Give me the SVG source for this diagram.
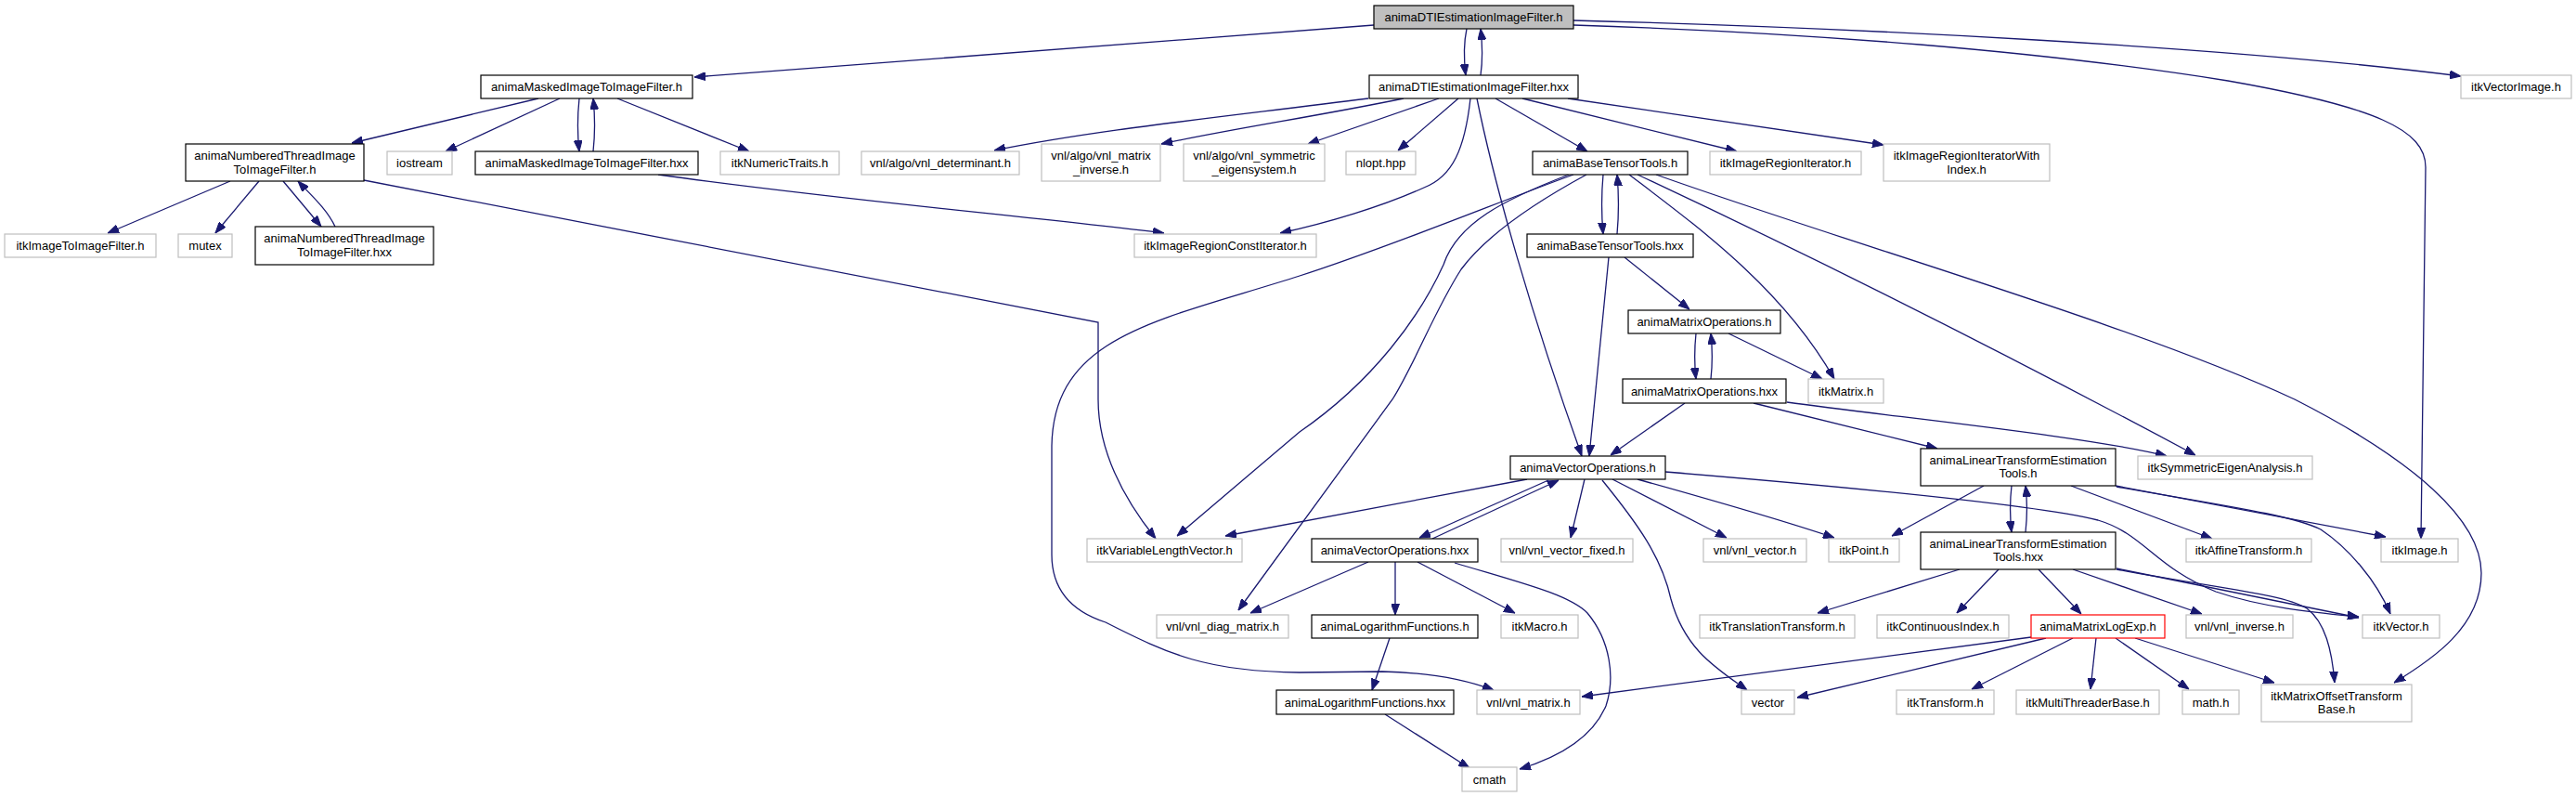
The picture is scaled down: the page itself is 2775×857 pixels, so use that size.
<svg xmlns="http://www.w3.org/2000/svg" width="2775" height="857" viewBox="0 0 2775 857">
<style>
rect{fill:#fff;stroke-width:1.2}
.d{stroke:#000}
.e{stroke:#bfbfbf}
.r{fill:#bfbfbf;stroke:#000}
.t{stroke:#ff0000}
text{font-family:"Liberation Sans",Arial,Helvetica,sans-serif;font-size:13px;fill:#000;text-anchor:middle}
#edges path{fill:none;stroke:#191970;stroke-width:1.3;marker-end:url(#ah)}
</style>
<defs>
<marker id="ah" markerUnits="userSpaceOnUse" markerWidth="12" markerHeight="9" refX="12" refY="4.5" orient="auto" viewBox="0 0 12 9"><path d="M0,0L12,4.5L0,9z" fill="#191970" stroke="#191970" stroke-width="1"/></marker>
</defs>
<rect x="0" y="0" width="2775" height="857" style="fill:#fff;stroke:none"/>
<g id="edges">
<path d="M1480,27 L748,83"/>
<path d="M1580,31 C1577,45 1577,65 1579,81"/>
<path d="M1595,81 C1597,67 1597,48 1595,31"/>
<path d="M1695,22 C2000,30 2400,50 2651,82"/>
<path d="M1695,27 C1950,35 2200,55 2400,87 C2560,115 2613,140 2613,180 L2608,580"/>
<path d="M580,106 L379,154"/>
<path d="M603,106 L480,163"/>
<path d="M624,106 C622,125 622,145 624,163"/>
<path d="M639,163 C641,145 641,125 639,106"/>
<path d="M665,106 L807,163"/>
<path d="M248,195 L116,251"/>
<path d="M279,195 L232,251"/>
<path d="M305,195 L346,244"/>
<path d="M361,244 C352,225 335,210 321,195"/>
<path d="M392,194 L1183,347 L1183,430 C1183,480 1205,530 1245,580"/>
<path d="M709,188 C900,215 1100,232 1254,251"/>
<path d="M1474,106 C1300,128 1180,140 1071,162"/>
<path d="M1512,106 C1420,125 1330,138 1251,155"/>
<path d="M1550,106 L1409,155"/>
<path d="M1571,106 L1506,162"/>
<path d="M1584,106 C1578,160 1565,190 1534,202 C1490,222 1430,240 1379,251"/>
<path d="M1611,106 L1710,163"/>
<path d="M1640,106 L1871,163"/>
<path d="M1689,106 L2029,156"/>
<path d="M1591,106 C1610,200 1650,340 1704,491"/>
<path d="M1727,188 C1725,210 1725,230 1727,252"/>
<path d="M1742,252 C1744,230 1744,210 1742,188"/>
<path d="M1690,188 C1620,215 1570,240 1555,285 C1530,340 1480,410 1400,465 L1268,577"/>
<path d="M1709,188 C1650,220 1600,255 1574,290 C1545,335 1525,390 1500,430 L1334,657"/>
<path d="M1695,188 C1620,215 1500,265 1400,297 C1250,345 1135,360 1133,480 L1133,597 C1133,640 1160,660 1191,670 C1260,705 1300,723 1400,724 L1489,723 C1540,724 1580,732 1609,743"/>
<path d="M1755,188 C1830,245 1920,310 1976,408"/>
<path d="M1764,188 C1950,275 2150,375 2365,490"/>
<path d="M1784,188 C2000,265 2300,350 2472,430 C2600,495 2673,560 2673,617 C2673,675 2620,710 2579,735"/>
<path d="M1750,277 L1820,333"/>
<path d="M1733,277 L1712,491"/>
<path d="M1827,359 C1825,378 1825,390 1827,408"/>
<path d="M1843,408 C1845,390 1845,378 1843,359"/>
<path d="M1862,359 L1963,408"/>
<path d="M1815,434 L1735,490"/>
<path d="M1889,434 L2087,483"/>
<path d="M1925,433 C2050,450 2250,470 2334,491"/>
<path d="M1645,516 L1320,577"/>
<path d="M1668,517 L1529,579"/>
<path d="M1543,580 L1679,517"/>
<path d="M1707,516 L1692,579"/>
<path d="M1737,516 L1860,579"/>
<path d="M1764,516 C1850,540 1920,560 1976,579"/>
<path d="M1726,517 C1765,565 1790,600 1800,645 C1815,700 1850,720 1882,743"/>
<path d="M1794,508 C2000,525 2200,545 2260,560 C2310,575 2320,610 2387,637 C2440,655 2500,660 2541,664"/>
<path d="M2167,523 C2165,540 2165,555 2167,573"/>
<path d="M2182,573 C2184,555 2184,540 2182,523"/>
<path d="M2137,523 L2038,577"/>
<path d="M2231,523 L2383,580"/>
<path d="M2279,523 L2570,578"/>
<path d="M2280,524 C2400,545 2470,555 2500,570 C2530,590 2560,625 2575,661"/>
<path d="M2111,613 L1958,660"/>
<path d="M2153,613 L2108,660"/>
<path d="M2196,613 L2242,661"/>
<path d="M2233,613 L2372,661"/>
<path d="M2280,612 L2541,665"/>
<path d="M2280,613 C2400,635 2460,640 2485,655 C2505,670 2512,700 2515,735"/>
<path d="M2188,686 L1704,750"/>
<path d="M2204,687 L1936,751"/>
<path d="M2233,687 L2124,742"/>
<path d="M2258,687 L2252,742"/>
<path d="M2279,687 L2358,742"/>
<path d="M2300,687 L2450,735"/>
<path d="M1474,605 L1347,660"/>
<path d="M1503,605 L1503,662"/>
<path d="M1527,605 L1632,660"/>
<path d="M1567,606 C1640,628 1690,640 1710,660 C1735,690 1740,730 1730,760 C1715,795 1680,815 1637,828"/>
<path d="M1497,687 L1478,743"/>
<path d="M1492,769 L1583,827"/>
</g>
<g id="n_root"><rect class="r" x="1480" y="6" width="215" height="25"/><text x="1587.5" y="23">animaDTIEstimationImageFilter.h</text></g>
<g id="n_masked"><rect class="d" x="518" y="81" width="228" height="25"/><text x="632" y="98">animaMaskedImageToImageFilter.h</text></g>
<g id="n_dtihxx"><rect class="d" x="1475" y="81" width="225" height="25"/><text x="1587.5" y="98">animaDTIEstimationImageFilter.hxx</text></g>
<g id="n_vecimg"><rect class="e" x="2651" y="81" width="119" height="25"/><text x="2710.5" y="98">itkVectorImage.h</text></g>
<g id="n_numth"><rect class="d" x="200" y="155" width="192" height="40"/><text x="296" y="172">animaNumberedThreadImage</text><text x="296" y="187">ToImageFilter.h</text></g>
<g id="n_iostream"><rect class="e" x="417" y="163" width="70" height="25"/><text x="452" y="180">iostream</text></g>
<g id="n_maskedhxx"><rect class="d" x="512" y="163" width="240" height="25"/><text x="632" y="180">animaMaskedImageToImageFilter.hxx</text></g>
<g id="n_numtraits"><rect class="e" x="776" y="163" width="128" height="25"/><text x="840" y="180">itkNumericTraits.h</text></g>
<g id="n_det"><rect class="e" x="928" y="163" width="170" height="25"/><text x="1013" y="180">vnl/algo/vnl_determinant.h</text></g>
<g id="n_matinv"><rect class="e" x="1122" y="155" width="128" height="40"/><text x="1186" y="172">vnl/algo/vnl_matrix</text><text x="1186" y="187">_inverse.h</text></g>
<g id="n_symeig"><rect class="e" x="1275" y="155" width="152" height="40"/><text x="1351" y="172">vnl/algo/vnl_symmetric</text><text x="1351" y="187">_eigensystem.h</text></g>
<g id="n_nlopt"><rect class="e" x="1450" y="163" width="75" height="25"/><text x="1487.5" y="180">nlopt.hpp</text></g>
<g id="n_btt"><rect class="d" x="1651" y="163" width="167" height="25"/><text x="1734.5" y="180">animaBaseTensorTools.h</text></g>
<g id="n_iri"><rect class="e" x="1842" y="163" width="163" height="25"/><text x="1923.5" y="180">itkImageRegionIterator.h</text></g>
<g id="n_iriwi"><rect class="e" x="2029" y="155" width="179" height="40"/><text x="2118.5" y="172">itkImageRegionIteratorWith</text><text x="2118.5" y="187">Index.h</text></g>
<g id="n_itif"><rect class="e" x="5" y="252" width="163" height="25"/><text x="86.5" y="269">itkImageToImageFilter.h</text></g>
<g id="n_mutex"><rect class="e" x="192" y="252" width="58" height="25"/><text x="221" y="269">mutex</text></g>
<g id="n_numthhxx"><rect class="d" x="275" y="244" width="192" height="41"/><text x="371" y="261">animaNumberedThreadImage</text><text x="371" y="276">ToImageFilter.hxx</text></g>
<g id="n_ircit"><rect class="e" x="1222" y="252" width="196" height="25"/><text x="1320" y="269">itkImageRegionConstIterator.h</text></g>
<g id="n_btthxx"><rect class="d" x="1645" y="252" width="179" height="25"/><text x="1734.5" y="269">animaBaseTensorTools.hxx</text></g>
<g id="n_mo"><rect class="d" x="1754" y="334" width="164" height="25"/><text x="1836" y="351">animaMatrixOperations.h</text></g>
<g id="n_mohxx"><rect class="d" x="1748" y="408" width="176" height="26"/><text x="1836" y="425.5">animaMatrixOperations.hxx</text></g>
<g id="n_itkmatrix"><rect class="e" x="1948" y="408" width="81" height="26"/><text x="1988.5" y="425.5">itkMatrix.h</text></g>
<g id="n_vo"><rect class="d" x="1627" y="491" width="167" height="25"/><text x="1710.5" y="508">animaVectorOperations.h</text></g>
<g id="n_ltet"><rect class="d" x="2069" y="483" width="210" height="40"/><text x="2174" y="500">animaLinearTransformEstimation</text><text x="2174" y="514">Tools.h</text></g>
<g id="n_symeigan"><rect class="e" x="2303" y="491" width="188" height="25"/><text x="2397" y="508">itkSymmetricEigenAnalysis.h</text></g>
<g id="n_vlv"><rect class="e" x="1171" y="580" width="167" height="25"/><text x="1254.5" y="597">itkVariableLengthVector.h</text></g>
<g id="n_vohxx"><rect class="d" x="1413" y="580" width="179" height="25"/><text x="1502.5" y="597">animaVectorOperations.hxx</text></g>
<g id="n_vvf"><rect class="e" x="1617" y="580" width="142" height="25"/><text x="1688" y="597">vnl/vnl_vector_fixed.h</text></g>
<g id="n_vv"><rect class="e" x="1835" y="580" width="111" height="25"/><text x="1890.5" y="597">vnl/vnl_vector.h</text></g>
<g id="n_point"><rect class="e" x="1970" y="580" width="76" height="25"/><text x="2008" y="597">itkPoint.h</text></g>
<g id="n_lteth"><rect class="d" x="2069" y="573" width="210" height="40"/><text x="2174" y="590">animaLinearTransformEstimation</text><text x="2174" y="604">Tools.hxx</text></g>
<g id="n_affine"><rect class="e" x="2355" y="580" width="135" height="25"/><text x="2422.5" y="597">itkAffineTransform.h</text></g>
<g id="n_image"><rect class="e" x="2565" y="580" width="83" height="25"/><text x="2606.5" y="597">itkImage.h</text></g>
<g id="n_diag"><rect class="e" x="1246" y="662" width="142" height="25"/><text x="1317" y="679">vnl/vnl_diag_matrix.h</text></g>
<g id="n_logf"><rect class="d" x="1413" y="662" width="179" height="25"/><text x="1502.5" y="679">animaLogarithmFunctions.h</text></g>
<g id="n_macro"><rect class="e" x="1617" y="662" width="83" height="25"/><text x="1658.5" y="679">itkMacro.h</text></g>
<g id="n_trans"><rect class="e" x="1831" y="662" width="167" height="25"/><text x="1914.5" y="679">itkTranslationTransform.h</text></g>
<g id="n_contidx"><rect class="e" x="2022" y="662" width="142" height="25"/><text x="2093" y="679">itkContinuousIndex.h</text></g>
<g id="n_mle"><rect class="t" x="2188" y="662" width="144" height="25"/><text x="2260" y="679">animaMatrixLogExp.h</text></g>
<g id="n_vinv"><rect class="e" x="2355" y="662" width="115" height="25"/><text x="2412.5" y="679">vnl/vnl_inverse.h</text></g>
<g id="n_vector"><rect class="e" x="2545" y="662" width="83" height="25"/><text x="2586.5" y="679">itkVector.h</text></g>
<g id="n_logfhxx"><rect class="d" x="1375" y="743" width="191" height="26"/><text x="1470.5" y="760.5">animaLogarithmFunctions.hxx</text></g>
<g id="n_vmat"><rect class="e" x="1591" y="743" width="111" height="26"/><text x="1646.5" y="760.5">vnl/vnl_matrix.h</text></g>
<g id="n_vec"><rect class="e" x="1876" y="743" width="57" height="26"/><text x="1904.5" y="760.5">vector</text></g>
<g id="n_transform"><rect class="e" x="2043" y="743" width="105" height="26"/><text x="2095.5" y="760.5">itkTransform.h</text></g>
<g id="n_mtb"><rect class="e" x="2172" y="743" width="154" height="26"/><text x="2249" y="760.5">itkMultiThreaderBase.h</text></g>
<g id="n_math"><rect class="e" x="2351" y="743" width="61" height="26"/><text x="2381.5" y="760.5">math.h</text></g>
<g id="n_mot"><rect class="e" x="2436" y="737" width="162" height="40"/><text x="2517" y="754">itkMatrixOffsetTransform</text><text x="2517" y="768">Base.h</text></g>
<g id="n_cmath"><rect class="e" x="1575" y="826" width="59" height="26"/><text x="1604.5" y="843.5">cmath</text></g>
</svg>
